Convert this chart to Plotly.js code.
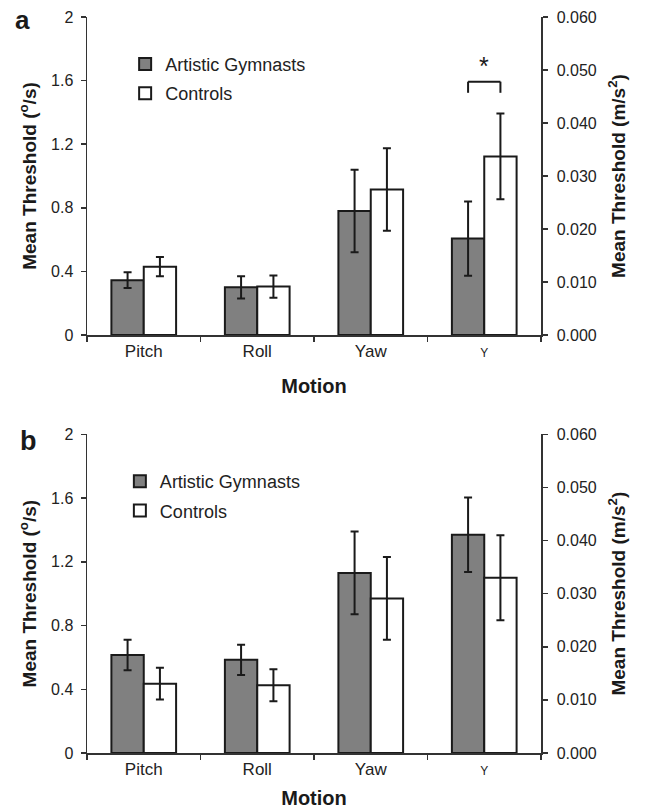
<!DOCTYPE html>
<html><head><meta charset="utf-8">
<script src="https://cdn.plot.ly/plotly-3.0.1.min.js"></script>
<style>html,body{margin:0;padding:0;background:#fff}#chart{width:646px;height:809px}</style>
</head><body><div id="chart"></div>
<script>
// ---------- data ----------
const categories = ['Pitch', 'Roll', 'Yaw', 'Y'];
const tickLabels = ['Pitch', 'Roll', 'Yaw', '<span style="font-size:12px">Y</span>'];
const angularMotions = ['Pitch', 'Roll', 'Yaw'];
const translationMotion = ['Y'];
const seriesNames = ['Artistic Gymnasts', 'Controls'];

// panel a (angular in deg/s, Y in m/s^2)
const aGymAngular = [0.345, 0.30, 0.78];
const aGymAngularErr = [0.05, 0.07, 0.26];
const aCtlAngular = [0.43, 0.305, 0.915];
const aCtlAngularErr = [0.06, 0.07, 0.26];
const aGymY = [0.0182];
const aGymYErr = [0.0070];
const aCtlY = [0.0337];
const aCtlYErr = [0.0081];

// panel b
const bGymAngular = [0.615, 0.585, 1.13];
const bGymAngularErr = [0.095, 0.095, 0.26];
const bCtlAngular = [0.435, 0.425, 0.97];
const bCtlAngularErr = [0.10, 0.10, 0.26];
const bGymY = [0.0411];
const bGymYErr = [0.0070];
const bCtlY = [0.0330];
const bCtlYErr = [0.0080];

const leftTickVals = [0, 0.4, 0.8, 1.2, 1.6, 2];
const leftTickText = ['0', '0.4', '0.8', '1.2', '1.6', '2'];
const rightTickVals = [0, 0.01, 0.02, 0.03, 0.04, 0.05, 0.06];
const sigLevelA = [0.0478];  // bracket height (m/s^2) for significance marker in panel a

// ---------- styling ----------
const FONT = 'Liberation Sans, Arial, Helvetica, sans-serif';
const INK = '#1a1a1a';
const AXC = '#333333';
const GYM_FILL = '#808080';
const CTL_FILL = '#ffffff';
const BARGAP = 0.43;

function barTrace(x, y, err, name, fill, xa, ya, legend, show, group) {
  return {
    type: 'bar', x: x, y: y, name: name, xaxis: xa, yaxis: ya,
    legend: legend, showlegend: show, legendgroup: group + legend, offsetgroup: group,
    marker: {color: fill, line: {color: INK, width: 2}},
    error_y: {type: 'data', array: err, visible: true, color: INK, thickness: 2, width: 4},
    hoverinfo: 'skip'
  };
}

const data = [
  barTrace(angularMotions, aGymAngular, aGymAngularErr, seriesNames[0], GYM_FILL, 'x', 'y', 'legend', true, 'g'),
  barTrace(angularMotions, aCtlAngular, aCtlAngularErr, seriesNames[1], CTL_FILL, 'x', 'y', 'legend', true, 'c'),
  barTrace(translationMotion, aGymY, aGymYErr, seriesNames[0], GYM_FILL, 'x', 'y2', 'legend', false, 'g'),
  barTrace(translationMotion, aCtlY, aCtlYErr, seriesNames[1], CTL_FILL, 'x', 'y2', 'legend', false, 'c'),
  barTrace(angularMotions, bGymAngular, bGymAngularErr, seriesNames[0], GYM_FILL, 'x2', 'y3', 'legend2', true, 'g'),
  barTrace(angularMotions, bCtlAngular, bCtlAngularErr, seriesNames[1], CTL_FILL, 'x2', 'y3', 'legend2', true, 'c'),
  barTrace(translationMotion, bGymY, bGymYErr, seriesNames[0], GYM_FILL, 'x2', 'y4', 'legend2', false, 'g'),
  barTrace(translationMotion, bCtlY, bCtlYErr, seriesNames[1], CTL_FILL, 'x2', 'y4', 'legend2', false, 'c')
];

function xAxis(anchor) {
  return {
    anchor: anchor, domain: [0, 1], type: 'category',
    categoryorder: 'array', categoryarray: categories, range: [-0.5, categories.length - 0.5],
    tickmode: 'array', tickvals: categories, ticktext: tickLabels, tickson: 'boundaries',
    ticks: 'outside', ticklen: 5, tickwidth: 1.5, tickcolor: AXC,
    showline: true, linecolor: AXC, linewidth: 1.5, showgrid: false, zeroline: false,
    tickfont: {family: FONT, size: 17, color: '#222'},
    title: {text: '<b>Motion</b>', font: {family: FONT, size: 20, color: INK}, standoff: 19},
    fixedrange: true
  };
}
function leftAxis(anchor, domain) {
  return {
    anchor: anchor, domain: domain, range: [0, 2],
    tickmode: 'array', tickvals: leftTickVals, ticktext: leftTickText,
    ticks: 'outside', ticklen: 5, tickwidth: 1.5, tickcolor: AXC, ticklabelstandoff: 4,
    showline: true, linecolor: AXC, linewidth: 1.5, showgrid: false, zeroline: false,
    tickfont: {family: FONT, size: 16, color: '#222'},
    title: {text: '<b>Mean Threshold (<sup>o</sup>/s)</b>', font: {family: FONT, size: 19, color: INK}, standoff: 9},
    fixedrange: true
  };
}
function rightAxis(over, anchor) {
  return {
    overlaying: over, anchor: anchor, side: 'right', range: [0, 0.06],
    tickmode: 'array', tickvals: rightTickVals, tickformat: '.3f',
    ticks: 'outside', ticklen: 5, tickwidth: 1.5, tickcolor: AXC, ticklabelstandoff: 6,
    showline: true, linecolor: AXC, linewidth: 1.5, showgrid: false, zeroline: false,
    tickfont: {family: FONT, size: 16, color: '#222'},
    title: {text: '<b>Mean Threshold (m/s<sup>2</sup>)</b>', font: {family: FONT, size: 19, color: INK}, standoff: 16},
    fixedrange: true
  };
}

const yIdx = categories.indexOf('Y');
const half = (1 - BARGAP) / 4;
const bracketDrop = 0.0021;
const line = {color: INK, width: 2};
const shapes = [
  {type: 'line', xref: 'x', yref: 'y2', x0: yIdx - half, x1: yIdx - half, y0: sigLevelA[0] - bracketDrop, y1: sigLevelA[0], line: line},
  {type: 'line', xref: 'x', yref: 'y2', x0: yIdx - half, x1: yIdx + half, y0: sigLevelA[0], y1: sigLevelA[0], line: line},
  {type: 'line', xref: 'x', yref: 'y2', x0: yIdx + half, x1: yIdx + half, y0: sigLevelA[0] - bracketDrop, y1: sigLevelA[0], line: line}
];

const annotations = [
  {xref: 'x', yref: 'y2', x: yIdx, y: sigLevelA[0], text: '*', showarrow: false, yanchor: 'bottom', yshift: 0,
   font: {family: FONT, size: 25, color: INK}},
  {xref: 'paper', yref: 'paper', x: -0.142, y: 0.996, text: '<b>a</b>', showarrow: false,
   xanchor: 'center', yanchor: 'middle', font: {family: FONT, size: 26, color: INK}},
  {xref: 'paper', yref: 'paper', x: -0.128, y: 0.424, text: '<b>b</b>', showarrow: false,
   xanchor: 'center', yanchor: 'middle', font: {family: FONT, size: 27, color: INK}}
];

const legendBase = {
  xanchor: 'left', yanchor: 'top', bgcolor: 'rgba(0,0,0,0)', borderwidth: 0,
  font: {family: FONT, size: 18, color: '#222'}, traceorder: 'grouped', tracegroupgap: 3,
  itemclick: false, itemdoubleclick: false
};

const layout = {
  width: 646, height: 809,
  margin: {l: 87, r: 105, t: 17, b: 56},
  paper_bgcolor: '#ffffff', plot_bgcolor: '#ffffff',
  font: {family: FONT, color: INK},
  barmode: 'group', bargap: BARGAP, bargroupgap: 0,
  xaxis: xAxis('y'),
  yaxis: leftAxis('x', [0.5679, 1]),
  yaxis2: rightAxis('y', 'x'),
  xaxis2: xAxis('y3'),
  yaxis3: leftAxis('x2', [0, 0.433]),
  yaxis4: rightAxis('y3', 'x2'),
  legend: Object.assign({x: 0.084, y: 0.961}, legendBase),
  legend2: Object.assign({x: 0.0724, y: 0.394}, legendBase),
  shapes: shapes,
  annotations: annotations,
  showlegend: true
};

Plotly.newPlot('chart', data, layout, {staticPlot: true, displayModeBar: false});
</script></body></html>
